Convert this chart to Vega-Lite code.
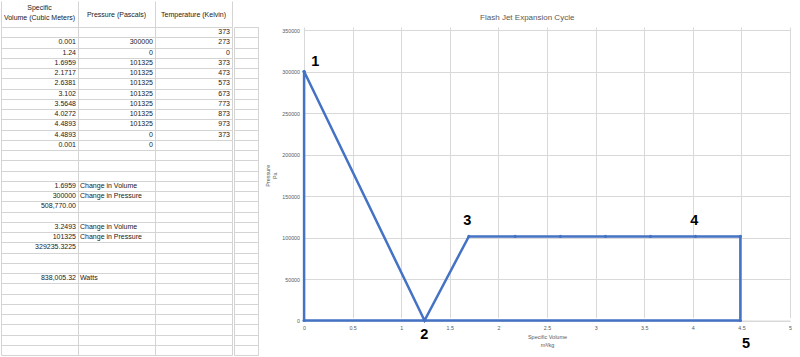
{
  "$schema": "https://vega.github.io/schema/vega-lite/v6.json",
  "background": "white",
  "padding": 0,
  "spacing": 6,
  "config": {"font": "Liberation Sans", "view": {"stroke": null}},
  "datasets": {
    "cells": [
      {"r": 1, "c": "C", "t": "373"},
      {"r": 2, "c": "A", "t": "0.001"}, {"r": 2, "c": "B", "t": "300000"}, {"r": 2, "c": "C", "t": "273"},
      {"r": 3, "c": "A", "t": "1.24"}, {"r": 3, "c": "B", "t": "0"}, {"r": 3, "c": "C", "t": "0"},
      {"r": 4, "c": "A", "t": "1.6959"}, {"r": 4, "c": "B", "t": "101325"}, {"r": 4, "c": "C", "t": "373"},
      {"r": 5, "c": "A", "t": "2.1717"}, {"r": 5, "c": "B", "t": "101325"}, {"r": 5, "c": "C", "t": "473"},
      {"r": 6, "c": "A", "t": "2.6381"}, {"r": 6, "c": "B", "t": "101325"}, {"r": 6, "c": "C", "t": "573"},
      {"r": 7, "c": "A", "t": "3.102"}, {"r": 7, "c": "B", "t": "101325"}, {"r": 7, "c": "C", "t": "673"},
      {"r": 8, "c": "A", "t": "3.5648"}, {"r": 8, "c": "B", "t": "101325"}, {"r": 8, "c": "C", "t": "773"},
      {"r": 9, "c": "A", "t": "4.0272"}, {"r": 9, "c": "B", "t": "101325"}, {"r": 9, "c": "C", "t": "873"},
      {"r": 10, "c": "A", "t": "4.4893"}, {"r": 10, "c": "B", "t": "101325"}, {"r": 10, "c": "C", "t": "973"},
      {"r": 11, "c": "A", "t": "4.4893"}, {"r": 11, "c": "B", "t": "0"}, {"r": 11, "c": "C", "t": "373"},
      {"r": 12, "c": "A", "t": "0.001"}, {"r": 12, "c": "B", "t": "0"},
      {"r": 16, "c": "A", "t": "1.6959"},
      {"r": 17, "c": "A", "t": "300000"},
      {"r": 18, "c": "A", "t": "508,770.00"},
      {"r": 20, "c": "A", "t": "3.2493"},
      {"r": 21, "c": "A", "t": "101325"},
      {"r": 22, "c": "A", "t": "329235.3225"},
      {"r": 25, "c": "A", "t": "838,005.32"}
    ],
    "notes": [
      {"r": 16, "c": "B", "t": "Change in Volume"},
      {"r": 17, "c": "B", "t": "Change in Pressure"},
      {"r": 20, "c": "B", "t": "Change in Volume"},
      {"r": 21, "c": "B", "t": "Change in Pressure"},
      {"r": 25, "c": "B", "t": "Watts"}
    ],
    "cycle": [
      {"i": 1, "v": 0.001, "p": 300000},
      {"i": 2, "v": 1.24, "p": 0},
      {"i": 3, "v": 1.6959, "p": 101325},
      {"i": 4, "v": 2.1717, "p": 101325},
      {"i": 5, "v": 2.6381, "p": 101325},
      {"i": 6, "v": 3.102, "p": 101325},
      {"i": 7, "v": 3.5648, "p": 101325},
      {"i": 8, "v": 4.0272, "p": 101325},
      {"i": 9, "v": 4.4893, "p": 101325},
      {"i": 10, "v": 4.4893, "p": 0},
      {"i": 11, "v": 0.001, "p": 0},
      {"i": 12, "v": 0.001, "p": 300000}
    ],
    "marks": [
      {"n": "1", "v": 0.116, "p": 310900},
      {"n": "2", "v": 1.238, "p": -17200},
      {"n": "3", "v": 1.68, "p": 119300},
      {"n": "4", "v": 4.015, "p": 119300},
      {"n": "5", "v": 4.547, "p": -28100}
    ]
  },
  "hconcat": [
    {
      "spacing": 0,
      "hconcat": [
        {
          "width": 231,
          "height": 328,
          "resolve": {"axis": {"x": "independent"}},
          "encoding": {
            "y": {
              "field": "r", "type": "ordinal", "bandPosition": 0.5,
              "scale": {"type": "band", "domain": [1,2,3,4,5,6,7,8,9,10,11,12,13,14,15,16,17,18,19,20,21,22,23,24,25,26,27,28,29,30,31,32], "paddingInner": 0, "paddingOuter": 0},
              "axis": {"title": null, "labels": false, "ticks": false, "domain": false, "grid": true, "tickBand": "extent", "gridColor": "#d4d4d4", "gridWidth": 1, "minExtent": 0, "maxExtent": 0}
            }
          },
          "layer": [
            {
              "data": {"name": "cells"},
              "mark": {"type": "text", "align": "right", "baseline": "middle", "dx": -2, "fontSize": 7, "color": "#1a1a1a"},
              "encoding": {
                "x": {
                  "field": "c", "type": "nominal", "bandPosition": 1,
                  "scale": {"type": "band", "domain": ["A", "B", "C"], "paddingInner": 0, "paddingOuter": 0},
                  "axis": {
                    "orient": "top", "title": null, "domain": false, "ticks": false, "grid": false,
                    "labelExpr": "datum.value == 'A' ? ['Specific', 'Volume (Cubic Meters)'] : datum.value == 'B' ? 'Pressure (Pascals)' : 'Temperature (Kelvin)'",
                    "labelPadding": {"condition": {"test": "datum.value == 'A'", "value": 20}, "value": 13},
                    "labelBaseline": "middle", "labelFontSize": 7, "labelColor": "#1a1a1a", "labelLineHeight": 10, "labelAngle": 0
                  }
                },
                "text": {"field": "t"}
              }
            },
            {
              "data": {"name": "notes"},
              "mark": {"type": "text", "align": "left", "baseline": "middle", "dx": 2, "fontSize": 7, "color": "#1a1a1a"},
              "encoding": {
                "x": {
                  "field": "c", "type": "nominal", "bandPosition": 0,
                  "scale": {"type": "band", "domain": ["A", "B", "C"], "paddingInner": 0, "paddingOuter": 0},
                  "axis": {
                    "orient": "top", "title": null, "domain": false, "labels": false,
                    "ticks": true, "tickSize": 26, "tickColor": "#d4d4d4", "tickWidth": 1, "tickBand": "extent",
                    "grid": true, "gridColor": "#d4d4d4", "gridWidth": 1
                  }
                },
                "text": {"field": "t"}
              }
            }
          ]
        },
        {
          "width": 24,
          "height": 328,
          "view": {"stroke": "#d4d4d4"},
          "data": {"name": "notes"},
          "mark": {"type": "point", "opacity": 0, "size": 1},
          "encoding": {
            "y": {
              "field": "r", "type": "ordinal",
              "scale": {"type": "band", "domain": [1,2,3,4,5,6,7,8,9,10,11,12,13,14,15,16,17,18,19,20,21,22,23,24,25,26,27,28,29,30,31,32], "paddingInner": 0, "paddingOuter": 0},
              "axis": {"title": null, "labels": false, "ticks": false, "domain": false, "grid": true, "tickBand": "extent", "gridColor": "#d4d4d4", "gridWidth": 1, "minExtent": 0, "maxExtent": 0}
            }
          }
        }
      ]
    },
    {
      "width": 486,
      "height": 293.5,
      "view": {"stroke": null},
      "title": {"text": "Flash Jet Expansion Cycle", "fontSize": 8, "fontWeight": "normal", "color": "#595959", "anchor": "middle", "frame": "bounds", "offset": -3, "baseline": "bottom", "dx": -1},
      "layer": [
        {
          "data": {"name": "cycle"},
          "mark": {"type": "line", "color": "#4472C4", "strokeWidth": 2.5},
          "encoding": {
            "x": {
              "field": "v", "type": "quantitative",
              "scale": {"domain": [0, 5], "nice": false, "zero": false},
              "axis": {
                "values": [0, 0.5, 1, 1.5, 2, 2.5, 3, 3.5, 4, 4.5, 5], "format": "~g",
                "title": ["Specific Volume", "m³/kg"], "titleFontSize": 5.5, "titleFontWeight": "normal", "titleColor": "#595959", "titlePadding": 4, "titleLineHeight": 8,
                "labelFontSize": 5.3, "labelColor": "#595959", "labelPadding": 5, "labelFlush": false,
                "ticks": false, "domain": true, "domainColor": "#d9d9d9", "gridColor": "#d9d9d9", "gridWidth": 1
              }
            },
            "y": {
              "field": "p", "type": "quantitative",
              "scale": {"domain": [0, 350000], "nice": false, "range": [293.5, 3]},
              "axis": {
                "values": [0, 50000, 100000, 150000, 200000, 250000, 300000, 350000], "format": "d",
                "title": ["Pressure", "Pa"], "titleFontSize": 5.5, "titleFontWeight": "normal", "titleColor": "#595959", "titlePadding": 5, "titleLineHeight": 7,
                "labelFontSize": 5.3, "labelColor": "#595959", "labelPadding": 4.5,
                "ticks": false, "domain": false, "gridColor": "#d9d9d9", "gridWidth": 1, "minExtent": 22, "maxExtent": 22
              }
            },
            "order": {"field": "i", "type": "quantitative"}
          }
        },
        {
          "data": {"name": "cycle"},
          "mark": {"type": "point", "filled": true, "size": 10, "color": "#4472C4", "opacity": 1},
          "encoding": {
            "x": {"field": "v", "type": "quantitative"},
            "y": {"field": "p", "type": "quantitative"}
          }
        },
        {
          "data": {"name": "marks"},
          "mark": {"type": "text", "fontSize": 14.5, "fontWeight": "bold", "color": "#000000", "align": "center", "baseline": "middle"},
          "encoding": {
            "x": {"field": "v", "type": "quantitative"},
            "y": {"field": "p", "type": "quantitative"},
            "text": {"field": "n"}
          }
        }
      ]
    }
  ]
}
